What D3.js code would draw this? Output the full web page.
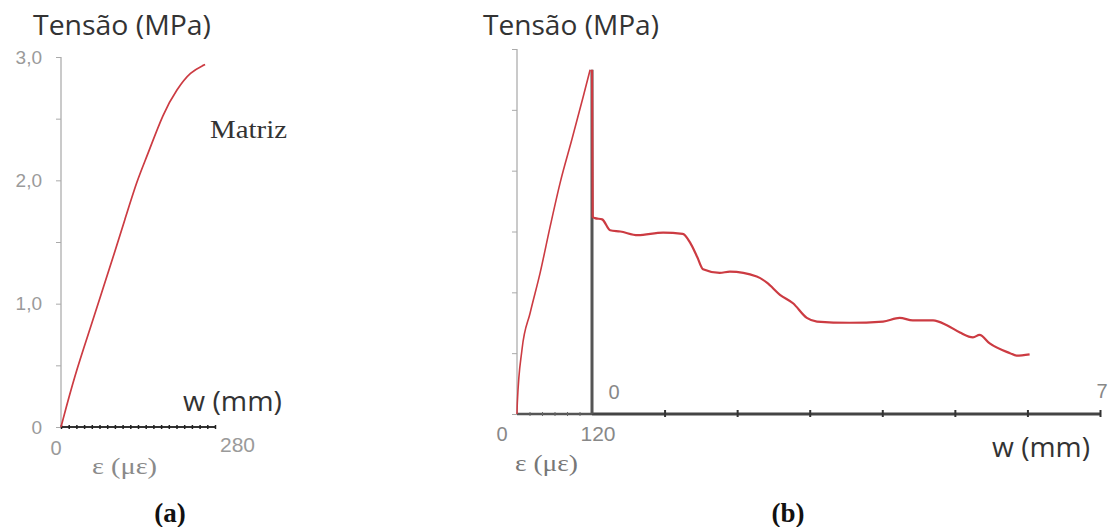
<!DOCTYPE html>
<html><head><meta charset="utf-8">
<script src="https://cdn.jsdelivr.net/npm/d3@7"></script>
<style>body{margin:0;background:#fff}svg{display:block}</style>
</head><body>
<svg id="c" width="1110" height="527"></svg>
<script>
// Panel (a): matrix stress-strain (strain in µε, stress in MPa)
const matrixStrain = [0, 25, 54, 74, 95, 116, 139, 157, 186, 211, 235, 262];
const matrixStress = [0, 0.42, 0.81, 1.09, 1.38, 1.68, 2.01, 2.20, 2.55, 2.74, 2.88, 2.94];
// Panel (b): pre-peak strain branch
const compStrain = [0, 0.5, 8, 21, 37, 53, 69, 88, 106, 117];
const compStress = [0, 0.09, 0.53, 0.83, 1.16, 1.54, 1.90, 2.26, 2.61, 2.83];
// Panel (b): post-peak crack opening branch (w in mm)
const crackW = [0, 0.01, 0.04, 0.14, 0.25, 0.39, 0.63, 0.98, 1.25, 1.35, 1.45, 1.53, 1.76, 1.90, 2.27, 2.41, 2.59, 2.77, 2.96, 3.10, 3.55, 4.01, 4.24, 4.42, 4.70, 4.89, 5.07, 5.25, 5.34, 5.48, 5.76, 5.85, 6.03];
const crackStress = [2.83, 1.62, 1.61, 1.60, 1.51, 1.50, 1.47, 1.49, 1.48, 1.41, 1.29, 1.19, 1.16, 1.17, 1.13, 1.08, 0.98, 0.91, 0.79, 0.76, 0.75, 0.76, 0.79, 0.77, 0.77, 0.73, 0.67, 0.63, 0.65, 0.58, 0.50, 0.48, 0.49];
// Tick labels
const yTicksA = [0, 0.5, 1, 1.5, 2, 2.5, 3];
const yLabelsA = {0: "0", 1: "1,0", 2: "2,0", 3: "3,0"};
const xLabelsA = ["0", "280"];
const xLabelsBStrain = ["0", "120"];
const xLabelsBW = ["0", "7"];
const wTicks = [1, 2, 3, 4, 5, 6, 7];

const svg = d3.select("#c");
const red = "#cc3b42";
const sans = "'Open Sans', sans-serif";
const arial = "'Liberation Sans', Arial, sans-serif";
const serif = "'Liberation Serif', 'Times New Roman', serif";

function txt(x, y, s, font, size, fill, opts = {}) {
  const t = svg.append("text").attr("x", x).attr("y", y)
    .attr("font-family", font).attr("font-size", size).attr("fill", fill).text(s);
  if (opts.anchor) t.attr("text-anchor", opts.anchor);
  if (opts.weight) t.attr("font-weight", opts.weight);
  if (opts.len) t.attr("textLength", opts.len).attr("lengthAdjust", "spacingAndGlyphs");
  return t;
}

// ---------- Panel (a) ----------
const xA = d3.scaleLinear().domain([0, 280]).range([61, 215]);
const yA = d3.scaleLinear().domain([0, 3]).range([427, 57]);

const gyA = svg.append("g").attr("transform", `translate(${xA(0)},0)`)
  .call(d3.axisLeft(yA).tickValues(yTicksA).tickSize(5).tickPadding(14)
    .tickFormat(d => yLabelsA[d] || ""));
gyA.select(".domain").attr("stroke", "#b8b8b8").attr("stroke-width", 1.5).attr("d", `M0,${yA(3)}V${yA(0)}`);
gyA.selectAll(".tick line").attr("stroke", "#aaa");
gyA.selectAll(".tick text").attr("fill", "#9a9a9a").attr("font-family", arial).attr("font-size", 19);

const gxA = svg.append("g").attr("transform", `translate(0,${yA(0)})`)
  .call(d3.axisBottom(xA).tickValues(d3.range(0, 281, 14)).tickSize(2).tickFormat(""));
gxA.select(".domain").attr("stroke", "#333").attr("stroke-width", 2).attr("d", `M${xA(0)},0H${xA(280)}`);
gxA.selectAll(".tick line").attr("stroke", "#222").attr("stroke-width", 1.5).attr("y1", -2);

txt(56, 455, xLabelsA[0], arial, 20, "#9a9a9a", {anchor: "middle"});
txt(220, 452, xLabelsA[1], arial, 21, "#9a9a9a");
txt(92, 474, "ε (με)", serif, 23, "#8a8a8a", {len: 65});
txt(183, 411, "w (mm)", sans, 27, "#333", {len: 99});
txt(33, 35, "Tensão (MPa)", sans, 27, "#333", {len: 178});
txt(210, 138, "Matriz", serif, 25, "#333", {len: 77});

const lineA = d3.line().curve(d3.curveBasis).x((d, i) => xA(matrixStrain[i])).y(d => yA(d));
svg.append("path").attr("d", lineA(matrixStress)).attr("fill", "none")
  .attr("stroke", red).attr("stroke-width", 1.7);

txt(170, 522, "(a)", serif, 27, "#111", {anchor: "middle", weight: "bold"});

// ---------- Panel (b) ----------
const xE = d3.scaleLinear().domain([0, 120]).range([517, 592]);
const xW = d3.scaleLinear().domain([0, 7]).range([592, 1100]);
const yB = d3.scaleLinear().domain([0, 3]).range([414, 49]);

const gyB = svg.append("g").attr("transform", `translate(${xE(0)},0)`)
  .call(d3.axisLeft(yB).tickValues(yTicksA).tickSize(5).tickFormat(""));
gyB.select(".domain").attr("stroke", "#b8b8b8").attr("stroke-width", 1.5).attr("d", `M0,${yB(3)}V${yB(0)}`);
gyB.selectAll(".tick line").attr("stroke", "#aaa");

const gxE = svg.append("g").attr("transform", `translate(0,${yB(0)})`)
  .call(d3.axisBottom(xE).tickValues([20, 40, 60, 80, 100]).tickSize(2).tickFormat(""));
gxE.select(".domain").attr("stroke", "#555").attr("stroke-width", 2.5).attr("d", `M${xE(0)},0H${xE(120)}`);
gxE.selectAll(".tick line").attr("stroke", "#666").attr("y1", -2);

const gxW = svg.append("g").attr("transform", `translate(0,${yB(0)})`)
  .call(d3.axisBottom(xW).tickValues(wTicks).tickSize(3).tickFormat(""));
gxW.select(".domain").attr("stroke", "#444").attr("stroke-width", 3).attr("d", `M${xW(0)},0H${xW(7)}`);
gxW.selectAll(".tick line").attr("stroke", "#333").attr("stroke-width", 2).attr("y1", -4);

// vertical axis at w = 0
svg.append("line").attr("x1", xW(0)).attr("x2", xW(0)).attr("y1", yB(2.83)).attr("y2", yB(0))
  .attr("stroke", "#555").attr("stroke-width", 3);

const lineE = d3.line().curve(d3.curveMonotoneX).x((d, i) => xE(compStrain[i])).y(d => yB(d));
svg.append("path").attr("d", lineE(compStress)).attr("fill", "none")
  .attr("stroke", red).attr("stroke-width", 1.6);
const lineW = d3.line().curve(d3.curveMonotoneX).x((d, i) => xW(crackW[i])).y(d => yB(d));
svg.append("path").attr("d", lineW(crackStress)).attr("fill", "none")
  .attr("stroke", red).attr("stroke-width", 2.2);

txt(502, 441, xLabelsBStrain[0], arial, 20, "#888", {anchor: "middle"});
txt(598, 441, xLabelsBStrain[1], arial, 21, "#888", {anchor: "middle"});
txt(515, 471, "ε (με)", serif, 23, "#777", {len: 63});
txt(614, 399, xLabelsBW[0], arial, 20, "#888", {anchor: "middle"});
txt(1102, 398, xLabelsBW[1], arial, 20, "#888", {anchor: "middle"});
txt(992, 457, "w (mm)", sans, 27, "#333", {len: 98});
txt(483, 35, "Tensão (MPa)", sans, 27, "#333", {len: 176});

txt(788, 522, "(b)", serif, 27, "#111", {anchor: "middle", weight: "bold"});
</script>
</body></html>
